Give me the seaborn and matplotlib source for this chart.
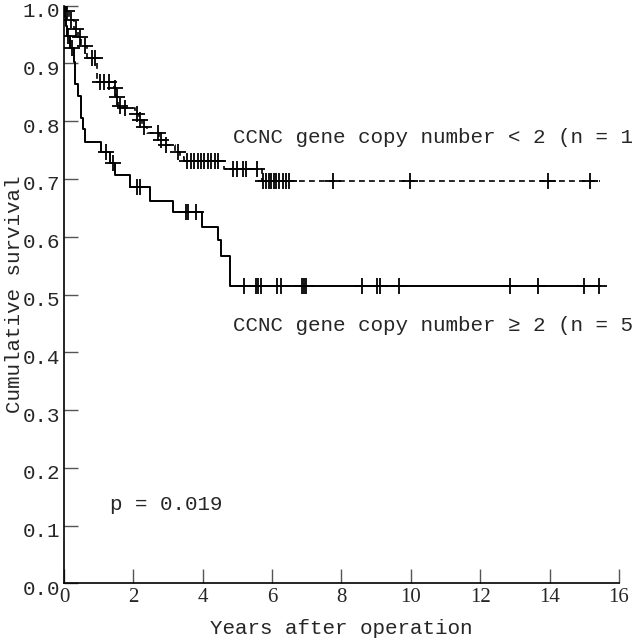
import numpy as np
import pandas as pd
import matplotlib
matplotlib.use('Agg')
import matplotlib.pyplot as plt
import matplotlib.transforms as mtransforms
import seaborn as sns

# Kaplan-Meier curves: drop times (years) and survival after each drop
low_copy_times = [0, 0.05, 0.15, 0.30, 0.40, 0.50, 0.65, 0.94, 1.45, 1.50, 1.55, 1.70,
                  2.05, 2.15, 2.25, 2.40, 2.75, 2.90, 3.20, 3.35, 3.45, 4.60, 5.70]
low_copy_surv = [1.0, 0.990, 0.975, 0.960, 0.945, 0.930, 0.909, 0.868, 0.857, 0.842, 0.827, 0.822,
                 0.813, 0.802, 0.790, 0.779, 0.767, 0.759, 0.747, 0.738, 0.731, 0.718, 0.696]
low_copy_end = 15.45
low_copy_censor = [0.10, 0.20, 0.35, 0.45, 0.60, 0.80, 0.90, 1.05, 1.15, 1.30, 1.47, 1.52,
                   1.62, 1.75, 2.10, 2.20, 2.30, 2.70, 2.80, 2.95, 3.30,
                   3.55, 3.65, 3.75, 3.85, 3.95, 4.05, 4.15, 4.25, 4.35, 4.45,
                   4.87, 4.99, 5.15, 5.26, 5.56,
                   5.75, 5.82, 5.90, 5.97, 6.05, 6.12, 6.20, 6.30, 6.40, 6.50,
                   7.76, 9.97, 13.94, 15.16]

high_copy_times = [0, 0.02, 0.05, 0.08, 0.17, 0.28, 0.33, 0.40, 0.48, 0.55, 0.62, 1.08, 1.32, 1.48,
                   1.90, 2.48, 3.14, 3.97, 4.45, 4.52, 4.80]
high_copy_surv = [1.0, 0.980, 0.965, 0.947, 0.926, 0.903, 0.865, 0.843, 0.805, 0.786, 0.764, 0.747,
                  0.727, 0.706, 0.686, 0.662, 0.643, 0.616, 0.595, 0.566, 0.514]
high_copy_end = 15.45
high_copy_censor = [0.11, 0.22, 1.20, 1.40, 2.10, 2.18, 3.52, 3.57, 3.80,
                    5.20, 5.53, 5.58, 5.68, 6.13, 6.27, 6.85, 6.92, 6.99,
                    8.60, 9.01, 9.11, 9.65, 12.85, 13.68, 14.99, 15.43]

label_low = 'CCNC gene copy number < 2 (n = 1'
label_high = 'CCNC gene copy number \u2265 2 (n = 5'
p_text = 'p = 0.019'


def curve_frame(times, surv, end):
    return pd.DataFrame({'t': list(times) + [end], 's': list(surv) + [surv[-1]]})


def censor_frame(times, surv, censor):
    idx = np.searchsorted(times, censor, side='right') - 1
    return pd.DataFrame({'t': censor, 's': np.asarray(surv)[idx]})


sns.set_style('ticks')
plt.rcParams['font.family'] = ['Liberation Mono', 'DejaVu Sans Mono']

fig = plt.figure(figsize=(6.36, 6.40), dpi=100)
ax = fig.add_axes([0.1006, 0.0883, 0.8726, 0.903])

low = curve_frame(low_copy_times, low_copy_surv, low_copy_end)
high = curve_frame(high_copy_times, high_copy_surv, high_copy_end)

sns.lineplot(data=low, x='t', y='s', ax=ax, estimator=None, sort=False,
             drawstyle='steps-post', color='black', lw=1.2, linestyle=(0, (3.5, 2.5)))
sns.lineplot(data=high, x='t', y='s', ax=ax, estimator=None, sort=False,
             drawstyle='steps-post', color='black', lw=1.4)

for times, surv, cens in [(low_copy_times, low_copy_surv, low_copy_censor),
                          (high_copy_times, high_copy_surv, high_copy_censor)]:
    cf = censor_frame(times, surv, cens)
    ax.plot(cf['t'], cf['s'], linestyle='none', marker='+', markersize=11,
            markeredgewidth=1.3, color='black')

ax.text(4.87, 0.771, label_low, fontsize=15, va='center', ha='left')
ax.text(4.87, 0.447, label_high, fontsize=15, va='center', ha='left')
ax.text(1.33, 0.136, p_text, fontsize=15, va='center', ha='left')

ax.set_xlim(0, 16)
ax.set_ylim(0, 1.0)
ax.set_xticks(np.arange(0, 17, 2))
ax.set_yticks(np.round(np.arange(0, 1.01, 0.1), 1))
ax.set_yticklabels([f'{v:.1f}' for v in np.arange(0, 1.01, 0.1)], fontsize=15)
ax.set_xticklabels([str(v) for v in range(0, 17, 2)], fontsize=15,
                   family='Liberation Serif')
ax.tick_params(direction='in', length=10, width=1, color='#555555', pad=3)

# nudge y tick labels down a little, like the original
shift = mtransforms.ScaledTranslation(0, -4 / 100, fig.dpi_scale_trans)
for lab in ax.get_yticklabels():
    lab.set_transform(lab.get_transform() + shift)

ax.set_xlabel('Years after operation', fontsize=15, labelpad=9)
ax.set_ylabel('Cumulative survival', fontsize=15)
ax.yaxis.set_label_coords(-0.072, 0.5)

sns.despine(ax=ax)
for sp in ['left', 'bottom']:
    ax.spines[sp].set_linewidth(1.2)
    ax.spines[sp].set_color('black')

fig.savefig('out.png', dpi=100)
